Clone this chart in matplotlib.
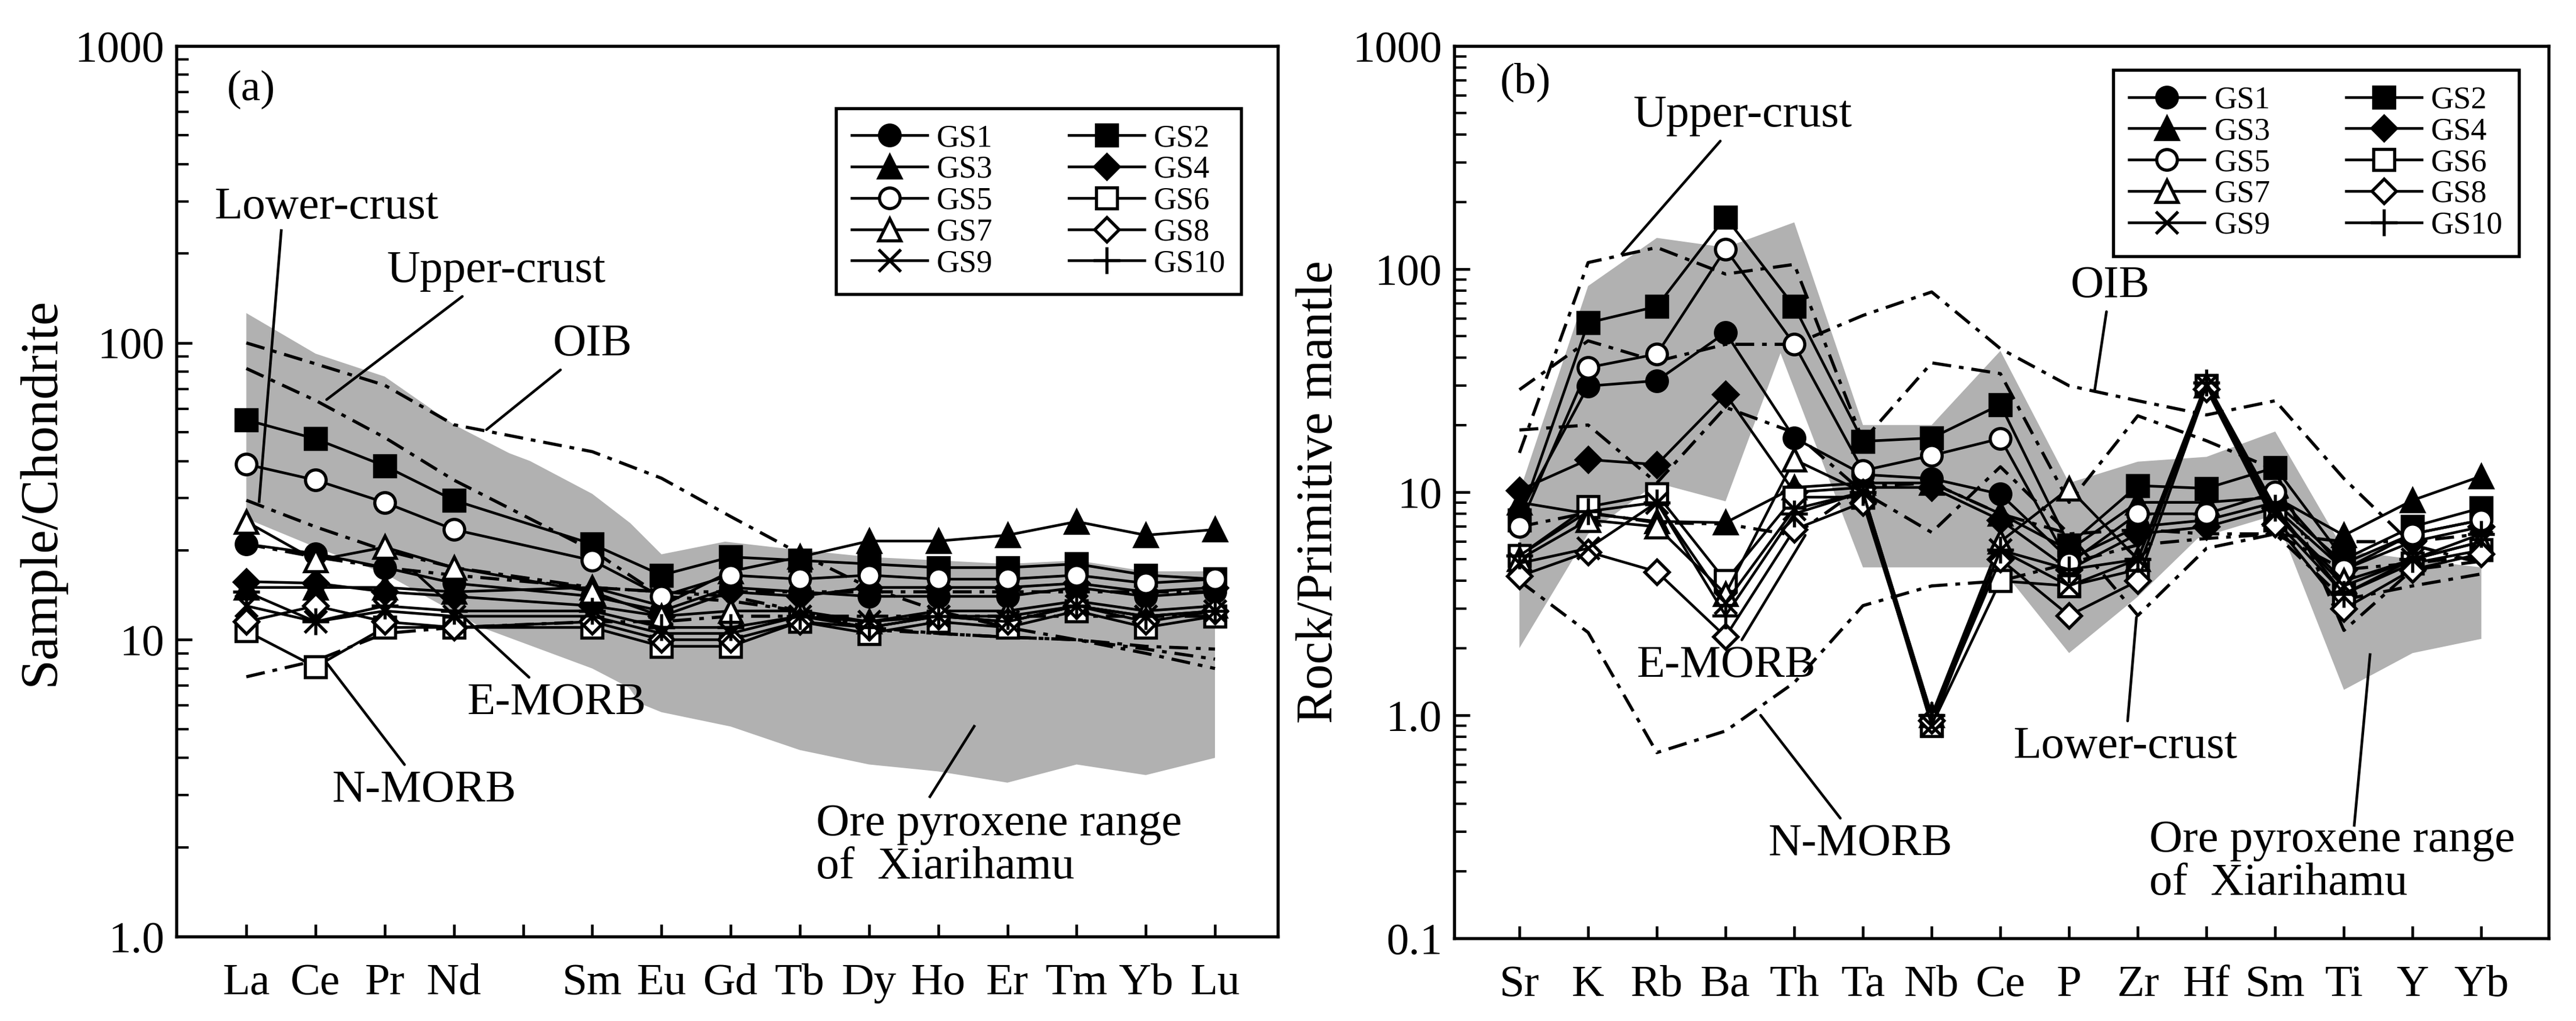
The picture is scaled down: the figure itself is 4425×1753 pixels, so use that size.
import numpy as np
import matplotlib.pyplot as plt

plt.rcParams['font.family'] = ['Liberation Serif', 'DejaVu Serif']

## param
# (a) chondrite-normalised REE
ree_all = ['La', 'Ce', 'Pr', 'Nd', 'Pm', 'Sm', 'Eu', 'Gd', 'Tb', 'Dy', 'Ho', 'Er', 'Tm', 'Yb', 'Lu']
ree = ['La', 'Ce', 'Pr', 'Nd', 'Sm', 'Eu', 'Gd', 'Tb', 'Dy', 'Ho', 'Er', 'Tm', 'Yb', 'Lu']
gs1_ree = [21, 19.5, 17.5, 15.5, 14, 12.5, 15, 14.5, 14, 14, 14, 15, 14, 14.5]
gs2_ree = [55, 47.5, 38.5, 29.5, 21, 16.5, 19, 18.5, 18, 17.5, 17.5, 18, 16.5, 16]
gs3_ree = [15, 15, 15, 14.5, 15, 13, 17, 19, 21.5, 21.5, 22.5, 25, 22.5, 23.5]
gs4_ree = [15.7, 15.5, 14.5, 14, 13, 12, 14.5, 14, 15, 15, 15, 15.5, 14.5, 15]
gs5_ree = [39, 34.5, 29, 23.5, 18.5, 14, 16.5, 16, 16.5, 16, 16, 16.5, 15.5, 16]
gs6_ree = [10.7, 8.1, 11, 11, 11, 9.5, 9.5, 11.5, 10.5, 11.5, 11, 12.5, 11, 12]
gs7_ree = [25, 18.5, 20.5, 17.5, 14.5, 12, 12.5, 12.5, 11.5, 12.5, 12.5, 13.5, 12.5, 13]
gs8_ree = [11.5, 13, 11.5, 11, 11.5, 10, 10, 11.5, 11, 12, 11.5, 13, 11.5, 12.5]
gs9_ree = [13, 11.5, 12.5, 12, 12, 10.5, 10.5, 12, 11.5, 12, 11.5, 13, 12, 12.5]
gs10_ree = [14.5, 11.5, 13, 12.5, 12.5, 11, 11, 12, 11, 12, 12, 13, 12, 12.5]
oib_ree = [100, 85, 72, 53, 43, 35, 26, 19.5, 15, 12.5, 11, 10, 9, 8]
uc_ree = [82, 64, 48, 34.5, 20, 14, 13.5, 12.5, 11, 10.5, 10.2, 10, 9.5, 9.3]
lc_ree = [29.5, 24, 20, 17.5, 15, 14.5, 14, 12.5, 10.8, 10.5, 10.2, 10, 9.3, 8.6]
emorb_ree = [21, 19, 17.5, 16.5, 15, 14.5, 14.5, 14.5, 14.5, 14.5, 14.5, 14.5, 14.5, 14.5]
nmorb_ree = [7.5, 8.5, 10.5, 11, 11.5, 11.5, 12, 12, 12, 12, 12, 12, 12, 12]
ore_ree_top_x = [0, 1, 2, 3, 3.8, 4.1, 5, 5.55, 6, 6.92, 7.78, 9, 10, 11, 12, 13, 14]
ore_ree_top_y = [126, 92, 77, 53, 42.5, 40, 31, 24.7, 19.4, 21.4, 20.3, 19, 18.5, 18, 18.5, 17, 17]
ore_ree_bot_x = [14, 13, 12, 11, 10, 9, 8, 7, 6, 5.69, 5.53, 5, 3.4, 2, 1, 0]
ore_ree_bot_y = [4.0, 3.5, 3.8, 3.3, 3.6, 3.8, 4.25, 5.1, 5.7, 6.1, 6.9, 8, 11, 16.7, 20.5, 25.6]

# (b) primitive-mantle-normalised spider
spider = ['Sr', 'K', 'Rb', 'Ba', 'Th', 'Ta', 'Nb', 'Ce', 'P', 'Zr', 'Hf', 'Sm', 'Ti', 'Y', 'Yb']
gs1_sp = [8.0, 29.9, 31.6, 51.9, 17.5, 12, 11.5, 9.8, 5.0, 7, 7.5, 9, 4.8, 6.5, 7.5]
gs2_sp = [7.5, 57.5, 68, 171, 68, 16.9, 17.5, 24.7, 5.8, 10.7, 10.4, 12.9, 5.0, 7.0, 8.5]
gs3_sp = [9, 8, 7.4, 7.3, 10.5, 11, 11, 8, 5.5, 9, 9, 9.5, 6.4, 9.2, 11.8]
gs4_sp = [10.2, 14, 13.3, 27.5, 10, 10.5, 10.5, 7.5, 4.5, 6.5, 7, 8.5, 4.5, 6, 7]
gs5_sp = [7, 36.2, 41.6, 123, 46, 12.5, 14.6, 17.4, 4.8, 8, 8, 10, 4.5, 6.5, 7.5]
gs6_sp = [5.2, 8.6, 9.8, 4.0, 9.5, 9.5, 0.9, 4.0, 3.8, 4.5, 30, 7.5, 3.5, 4.8, 5.5]
gs7_sp = [5.0, 7.5, 7.0, 3.5, 14, 10, 1.0, 6.0, 10.4, 5.0, 30, 8, 4.0, 5.0, 6.0]
gs8_sp = [4.2, 5.4, 4.4, 2.25, 6.8, 9, 0.95, 5.0, 2.8, 4.0, 29, 7.2, 3.0, 4.5, 5.3]
gs9_sp = [4.8, 5.6, 9.0, 3.2, 8.4, 10, 0.9, 5.5, 3.8, 5.0, 30, 8, 3.8, 5.0, 6.0]
gs10_sp = [5.2, 8.2, 9.0, 2.8, 8.0, 10, 1.0, 5.5, 4.5, 5.0, 31, 8.5, 3.5, 5.0, 6.5]
oib_sp = [28.8, 47.7, 38.6, 46, 46, 62, 79, 44, 30, 25.7, 22.2, 25.7, 11.5, 5.8, 4.8]
uc_sp = [15, 107, 125, 95, 105, 17, 38, 34, 9, 22, 17, 12.6, 2.4, 4.5, 4.9]
lc_sp = [19, 20, 11, 24, 18.5, 10, 6.6, 13, 6.5, 2.8, 5.6, 6.5, 3.3, 3.8, 4.3]
emorb_sp = [7, 8.1, 7.3, 7.2, 6.4, 10.6, 11, 8, 6.5, 6.8, 6.5, 6.5, 4.5, 4.8, 5.2]
nmorb_sp = [4.0, 2.35, 0.68, 0.85, 1.4, 3.1, 3.8, 4.0, 4.8, 5.8, 6.2, 6.5, 6.0, 6.0, 6.5]
ore_sp_top_x = [0, 1, 2, 3, 4, 5, 6, 7, 8, 9, 10, 11, 12, 13, 14]
ore_sp_top_y = [10, 84, 138, 125, 162, 20, 20, 43, 11, 13.7, 14.4, 18.7, 5.5, 5.0, 4.6]
ore_sp_bot_x = [14, 13, 12, 11, 9.87, 9, 8, 7, 5, 3.8, 3, 2, 1, 0]
ore_sp_bot_y = [2.2, 1.9, 1.3, 7.9, 6.2, 3.4, 1.9, 4.6, 4.6, 42, 9.1, 11, 6.5, 2.0]

labels = ['GS1', 'GS2', 'GS3', 'GS4', 'GS5', 'GS6', 'GS7', 'GS8', 'GS9', 'GS10']
ree_series = [gs1_ree, gs2_ree, gs3_ree, gs4_ree, gs5_ree, gs6_ree, gs7_ree, gs8_ree, gs9_ree, gs10_ree]
sp_series = [gs1_sp, gs2_sp, gs3_sp, gs4_sp, gs5_sp, gs6_sp, gs7_sp, gs8_sp, gs9_sp, gs10_sp]

# marker, face colour, size
styles = [('o', 'black', 8.5), ('s', 'black', 8.5), ('^', 'black', 9), ('D', 'black', 7),
          ('o', 'white', 8.5), ('s', 'white', 8.5), ('^', 'white', 9), ('D', 'white', 7),
          ('x', 'black', 9), ('+', 'black', 11)]
gray = '#b1b1b1'
dashdot = (6, 2.5, 1.5, 2.5)
fs_tick = 18.5
fs_text = 19


def draw_panel(ax, xs, series, refs, poly):
    ax.fill(poly[0], poly[1], color=gray, lw=0, zorder=1)
    for r in refs:
        ax.plot(xs, r, color='black', lw=1.3, dashes=dashdot, zorder=2)
    handles = []
    for s, lab, (m, fc, ms) in zip(series, labels, styles):
        h, = ax.plot(xs, s, color='black', lw=1.1, marker=m, ms=ms, mfc=fc,
                     mec='black', mew=1.3, label=lab, zorder=3)
        handles.append(h)
    return handles


def style_axis(ax, ylo, yhi, yticks, yticklabels, ylabel, lsize):
    ax.set_yscale('log')
    ax.set_ylim(ylo, yhi)
    ax.set_yticks(yticks)
    ax.set_yticklabels(yticklabels)
    minors = [m * d for d in yticks[:-1] for m in range(2, 10)]
    ax.set_yticks(minors, minor=True)
    ax.set_yticklabels([], minor=True)
    ax.tick_params(axis='y', which='major', direction='in', length=6.5, width=1.1,
                   labelsize=fs_tick, pad=5, right=False)
    ax.tick_params(axis='y', which='minor', direction='in', length=5, width=1.0, right=False)
    ax.tick_params(axis='x', which='major', direction='in', length=5, width=1.1,
                   labelsize=fs_tick, pad=11, top=False)
    ax.tick_params(axis='x', which='minor', bottom=False, top=False)
    for sp in ax.spines.values():
        sp.set_linewidth(1.3)
    ax.set_ylabel(ylabel, fontsize=lsize, labelpad=4)


def legend(ax, handles, anchor):
    order = [0, 2, 4, 6, 8, 1, 3, 5, 7, 9]
    leg = ax.legend([handles[i] for i in order], [labels[i] for i in order], ncol=2,
                    loc='upper right', bbox_to_anchor=anchor, fontsize=13,
                    handlelength=2.4, handletextpad=0.3, columnspacing=2.4,
                    labelspacing=0.06, borderpad=0.5, fancybox=False, framealpha=1,
                    edgecolor='black')
    leg.get_frame().set_linewidth(1.3)
    leg.set_zorder(5)


def note(ax, text, xy, xytext, **kw):
    ax.annotate(text, xy=xy, xytext=xytext, fontsize=fs_text, ha='center', va='center',
                arrowprops=dict(arrowstyle='-', color='black', lw=1.1, shrinkA=0, shrinkB=0),
                zorder=6, **kw)


## main
fig = plt.figure(figsize=(4425 / 300, 1753 / 300), dpi=300)

# (a)
ax1 = fig.add_axes([0.0685, 0.0827, 0.4276, 0.8722])
ree_x = [ree_all.index(e) for e in ree]
h1 = draw_panel(ax1, ree_x, ree_series, [oib_ree, uc_ree, lc_ree, emorb_ree, nmorb_ree],
                (ore_ree_top_x + ore_ree_bot_x, ore_ree_top_y + ore_ree_bot_y))
ax1.set_xlim(-1.01, 14.91)
ax1.set_xticks(range(len(ree_all)))
ax1.set_xticklabels([e if e != 'Pm' else '' for e in ree_all])
style_axis(ax1, 1, 1000, [1, 10, 100, 1000], ['1.0', '10', '100', '1000'],
           'Sample/Chondrite', 22)
legend(ax1, h1, (0.981, 0.948))
ax1.text(0.07, 710, '(a)', fontsize=18, ha='center', va='center')
ax1.plot([0.505, 0.185], [239, 29.2], color='black', lw=1.1, zorder=6)
ax1.text(1.16, 286, 'Lower-crust', fontsize=fs_text, ha='center', va='center')
note(ax1, 'Upper-crust', (1.16, 64.4), (3.61, 175))
note(ax1, 'OIB', (3.47, 51), (5.0, 99))
note(ax1, 'E-MORB', (2.41, 17.1), (4.49, 6.12))
note(ax1, 'N-MORB', (1.16, 8.36), (2.57, 3.11))
ax1.plot([9.88, 10.52], [2.96, 5.11], color='black', lw=1.1, zorder=6)
ax1.text(8.24, 2.02, 'Ore pyroxene range\nof  Xiarihamu', fontsize=fs_text,
         ha='left', va='center', linespacing=1.05)

# (b)
ax2 = fig.add_axes([0.5645, 0.0810, 0.4249, 0.8739])
sp_x = list(range(len(spider)))
h2 = draw_panel(ax2, sp_x, sp_series, [oib_sp, uc_sp, lc_sp, emorb_sp, nmorb_sp],
                (ore_sp_top_x + ore_sp_bot_x, ore_sp_top_y + ore_sp_bot_y))
ax2.set_xlim(-0.95, 14.98)
ax2.set_xticks(sp_x)
ax2.set_xticklabels(spider)
style_axis(ax2, 0.1, 1000, [0.1, 1, 10, 100, 1000], ['0.1', '1.0', '10', '100', '1000'],
           'Rock/Primitive mantle', 21)
legend(ax2, h2, (0.987, 0.991))
ax2.text(0.09, 689, '(b)', fontsize=18, ha='center', va='center')
note(ax2, 'Upper-crust', (1.49, 117), (3.25, 489))
note(ax2, 'OIB', (8.37, 28.3), (8.60, 84))
note(ax2, 'E-MORB', (4.16, 6.41), (3.01, 1.67))
note(ax2, 'N-MORB', (3.51, 1.0), (4.96, 0.265))
note(ax2, 'Lower-crust', (8.98, 2.75), (8.82, 0.723))
ax2.plot([12.15, 12.38], [0.321, 1.87], color='black', lw=1.1, zorder=6)
ax2.text(9.17, 0.22, 'Ore pyroxene range\nof  Xiarihamu', fontsize=fs_text,
         ha='left', va='center', linespacing=1.05)

fig.savefig('out.png', dpi=300)
